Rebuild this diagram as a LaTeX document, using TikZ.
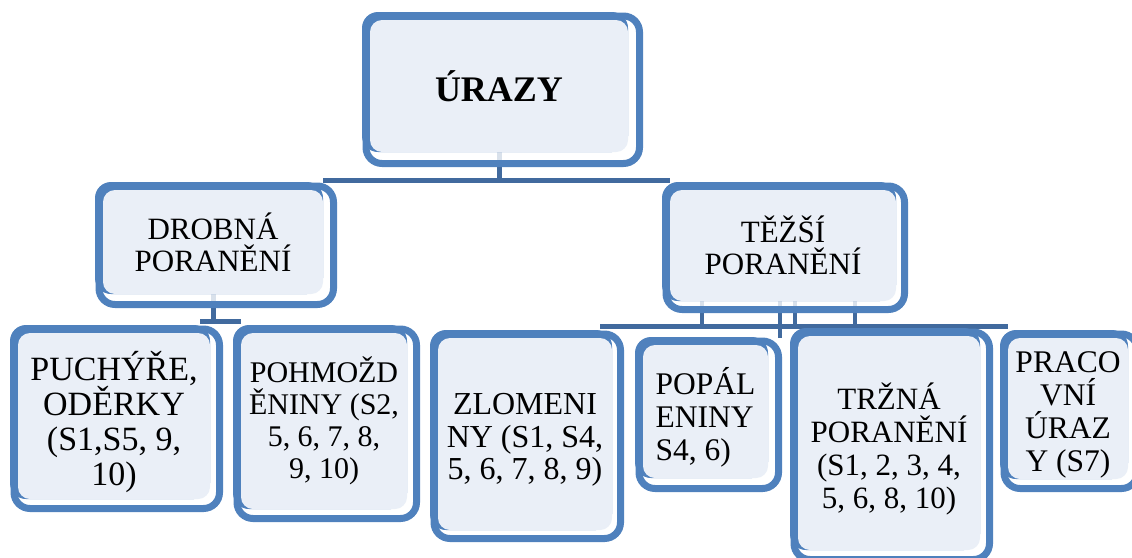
\documentclass[tikz,border=0pt]{standalone}
\usepackage{fontspec}
\setmainfont{Liberation Serif}
\usepackage{tikz}
\usetikzlibrary{calc}

\definecolor{frameblue}{HTML}{4F81BD}
\definecolor{linkblue}{HTML}{416A9E}
\definecolor{panelfill}{HTML}{EAEFF7}

\pgfdeclarelayer{bg}
\pgfsetlayers{bg,main}

\begin{document}
\begin{tikzpicture}[x=1pt, y=-1pt,
    backing/.style = {fill=frameblue, rounded corners=16pt},
    outline/.style = {draw=frameblue, line width=7pt,
                      fill=white, fill opacity=0.8, rounded corners=16pt},
    panel/.style   = {fill=panelfill, rounded corners=12pt, inner sep=0pt},
    link/.style    = {draw=linkblue, line width=5pt},
    boxtext/.style = {align=center, inner sep=0pt,
                      font=\fontsize{31}{33}\selectfont},
    lowtext/.style = {boxtext, yshift=-6pt}]
  \useasboundingbox (0,0) rectangle (1132,557);
  \clip (0,0) rectangle (1132,557);

  % frames: name / left / top / right / bottom / offset
  \foreach \n/\xa/\ya/\xb/\yb/\d in {urazy/362/12/643/167/15,
      drobna/95/182/337/308/14,  tezsi/662/182/908/313/12,
      puchyre/10/325/223/512/13, pohmozd/233/325/420/522/13,
      zlomeni/430/330/624/542/12, popal/635/337/782/492/14,
      trzna/790/328/993/563/13,  praco/1000/330/1141/492/13} {
    \path[outline] (\xa+4,\ya+4) rectangle (\xb-3.5,\yb-3.5);
    \path[backing] (\xa,\ya) rectangle (\xb-\d,\yb-\d);
    \node[panel, minimum width=\xb-\d-\xa-8, minimum height=\yb-\d-\ya-8]
      (\n) at ({(\xa+8+\xb-\d)/2},{(\ya+8+\yb-\d)/2}) {};
  }

  \node[boxtext, font=\bfseries\fontsize{36}{40}\selectfont] (urazy-text) at (urazy) {ÚRAZY};
  \node[boxtext, font=\fontsize{31}{32}\selectfont] (drobna-text) at (drobna) {DROBNÁ\\PORANĚNÍ};
  \node[boxtext, font=\fontsize{31}{32}\selectfont] (tezsi-text) at (tezsi) {TĚŽŠÍ\\PORANĚNÍ};
  \node[lowtext, font=\fontsize{34}{35}\selectfont] (puchyre-text) at (puchyre)
    {PUCHÝŘE,\\ODĚRKY\\(S1,S5, 9,\\10)};
  \node[boxtext, font=\fontsize{30}{32}\selectfont] (pohmozd-text) at (pohmozd)
    {POHMOŽD\\ĚNINY (S2,\\5, 6, 7, 8,\\9, 10)};
  \node[lowtext, font=\fontsize{32}{32.5}\selectfont] (zlomeni-text) at (zlomeni)
    {ZLOMENI\\NY (S1, S4,\\5, 6, 7, 8, 9)};
  \node[lowtext, align=left, font=\fontsize{31.5}{33}\selectfont] (popal-text) at (popal)
    {POPÁL\\ENINY\\S4, 6)};
  \node[lowtext] (trzna-text) at (trzna) {TRŽNÁ\\PORANĚNÍ\\(S1, 2, 3, 4,\\5, 6, 8, 10)};
  \node[lowtext, font=\fontsize{31.5}{33}\selectfont] (praco-text) at (praco)
    {PRACO\\VNÍ\\ÚRAZ\\Y (S7)};

  \begin{pgfonlayer}{bg}
    \draw[link] (urazy.south) -- ++(0,28.5) coordinate (top-bar);
    \draw[link] (drobna.north east |- top-bar) -- (tezsi.north west |- top-bar);
    \draw[link] (drobna.south) -- ++(0,27) coordinate (left-bar);
    \draw[link] ([xshift=-10pt]puchyre.north east |- left-bar) -- (pohmozd.north west |- left-bar);
    \path (tezsi.south) ++(0,25) coordinate (right-bar);
    \draw[link] ([xshift=-12pt]zlomeni.north east |- right-bar) -- (praco.north west |- right-bar);
    \foreach \dx in {-81,12,72}
      \draw[link, line width=4.5pt] ([xshift=\dx pt]tezsi.south) -- ++(0,25);
    \draw[link, line width=4.5pt] ([xshift=-3pt]tezsi.south) -- ++(0,37);
  \end{pgfonlayer}
\end{tikzpicture}
\end{document}
